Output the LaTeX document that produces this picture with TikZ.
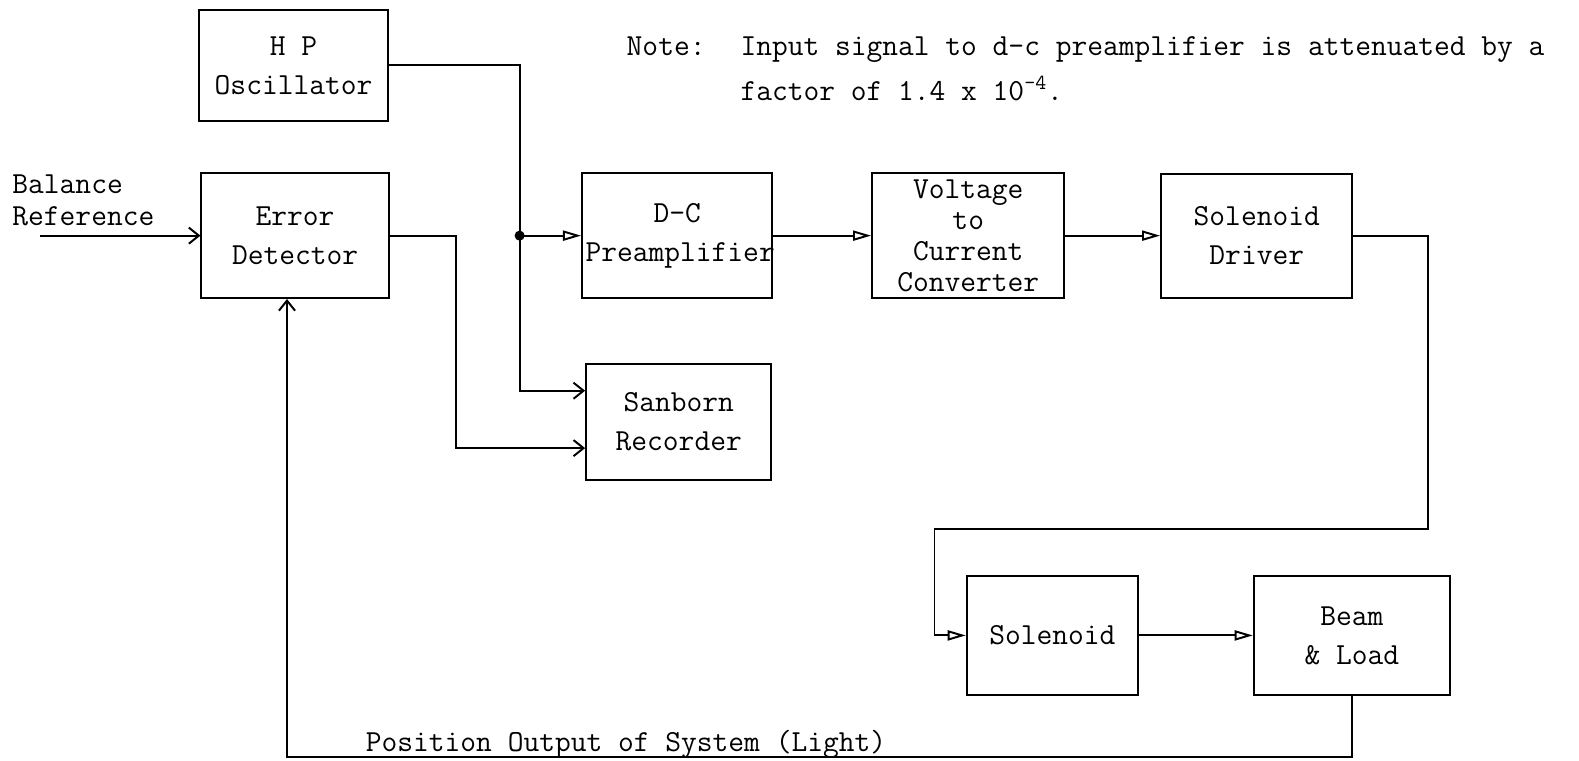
\documentclass[tikz,border=0pt]{standalone}
\usetikzlibrary{arrows.meta,calc}
\tikzset{
  blk/.style={draw, line width=1.1pt, inner sep=0pt, align=center,
    font=\ttfamily\fontsize{17.3}{22}\selectfont},
  lbl/.style={inner sep=0pt, font=\ttfamily\fontsize{17.3}{22}\selectfont},
  wire/.style={line width=1.1pt},
  opentip/.style={-{Triangle[open,length=0.36cm,width=0.2cm]}},
  barbtip/.style={-{Straight Barb[length=0.2cm,width=0.32cm]}},
}
\begin{document}
\begin{tikzpicture}[x=0.02cm,y=0.02cm]
\useasboundingbox (0,0) rectangle (1568,755);
% blocks
\node[blk, minimum width=3.74cm, minimum height=2.2cm] (hp) at (291.5,690) {H P\\Oscillator};
\node[blk, minimum width=3.72cm, minimum height=2.48cm] (err) at (293,521) {Error\\Detector};
\node[blk, minimum width=3.78cm, minimum height=2.48cm, text width=3.64cm] (dc) at (672.5,521) {D-C\\Preamplifier};
\node[blk, minimum width=3.82cm, minimum height=2.48cm,
  font=\ttfamily\fontsize{17.3}{17.6}\selectfont] (vcc) at (961.5,521) {Voltage\\to\\Current\\Converter};
\node[blk, minimum width=3.8cm, minimum height=2.46cm] (sd) at (1248,521) {Solenoid\\Driver};
\node[blk, minimum width=3.68cm, minimum height=2.32cm] (san) at (674,336) {Sanborn\\Recorder};
\node[blk, minimum width=3.4cm, minimum height=2.36cm] (sol) at (1045,124) {Solenoid};
\node[blk, minimum width=3.9cm, minimum height=2.36cm] (beam) at (1342.5,124) {Beam\\\& Load};
% labels
\node[lbl, anchor=base west] (balA) at (12,563) {Balance};
\node[lbl, anchor=base west] (balB) at (12,531) {Reference};
\node[lbl, anchor=base west] (note) at (622,700) {Note:};
\node[lbl, anchor=base west] (noteA) at (735,700) {Input signal to d-c preamplifier is attenuated by a};
\node[lbl, anchor=base west] (noteB) at (735,655) {factor of 1.4 x 10\textsuperscript{-4}.};
\node[lbl, anchor=base west] (pos) at (363,9) {Position Output of System (Light)};
% coordinates
\coordinate (bal) at (40,521);
\coordinate (J) at (516,521);
\coordinate (E1) at (453,521);
\coordinate (S1) at (1418,230);
\coordinate (S2) at (928,230);
\coordinate (B1) at (285,3);
% connectors
\draw[wire,barbtip] (bal) -- (err.west);
\draw[wire] (hp.east) -| (J);
\draw[wire,barbtip] (J) |- ($(san.west)+(0,31)$);
\fill (J) circle (0.1cm);
\draw[wire,opentip] (J) -- (dc.west);
\draw[wire,barbtip] (err.east) -- (E1) |- ($(san.west)+(0,-26)$);
\draw[wire,opentip] (dc.east) -- (vcc.west);
\draw[wire,opentip] (vcc.east) -- (sd.west);
\draw[wire,opentip] (sd.east) -| (S1) -- (S2) |- (sol.west);
\draw[wire,opentip] (sol.east) -- (beam.west);
\draw[wire,barbtip] (beam.south) -- (beam.south |- B1) -- (B1) -- (B1 |- err.south);
\end{tikzpicture}
\end{document}
